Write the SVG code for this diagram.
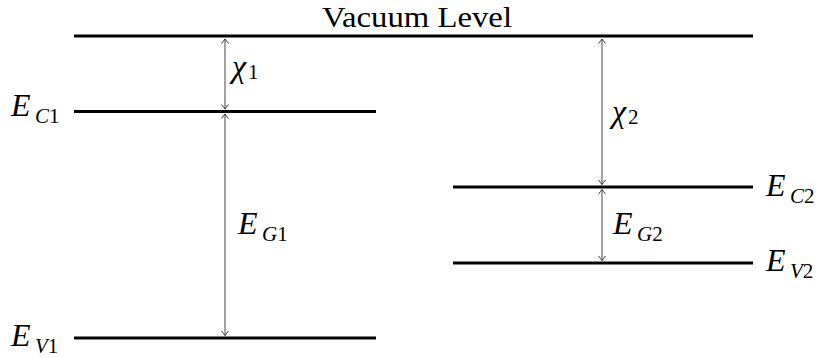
<svg xmlns="http://www.w3.org/2000/svg" width="818" height="358" viewBox="0 0 818 358">
<style>
.lvl{stroke:#000;stroke-width:3;fill:none}
.arr{stroke:#666;stroke-width:1.2;fill:none;marker-start:url(#ah);marker-end:url(#ah)}
.t{font-family:"Liberation Serif","DejaVu Serif",serif;fill:#000}
.big{font-size:32px;font-style:italic}
.sub{font-size:21px}
.it{font-style:italic}
</style>
<defs>
<marker id="ah" markerUnits="userSpaceOnUse" markerWidth="12" markerHeight="12" viewBox="-6 -6 12 12" refX="0" refY="0" orient="auto-start-reverse">
<path d="M-4.5,-3.5 Q-1.5,-1 0,0 Q-1.5,1 -4.5,3.5" stroke="#333" stroke-width="1" fill="none"/>
</marker>
</defs>
<rect width="818" height="358" fill="#fff"/>
<g id="vacuum">
<line class="lvl" x1="74" y1="36" x2="753" y2="36"/>
<text class="t" x="322" y="27" font-size="29" textLength="190" lengthAdjust="spacingAndGlyphs">Vacuum Level</text>
</g>
<g id="ec1">
<line class="lvl" x1="74" y1="111.5" x2="376" y2="111.5"/>
<text class="t big" x="11" y="116">E</text><text class="t sub it" x="35" y="123">C<tspan font-style="normal">1</tspan></text>
</g>
<g id="ev1">
<line class="lvl" x1="74" y1="338" x2="376" y2="338"/>
<text class="t big" x="11" y="346">E</text><text class="t sub it" x="35" y="353">V<tspan font-style="normal">1</tspan></text>
</g>
<g id="ec2">
<line class="lvl" x1="453" y1="187" x2="753" y2="187"/>
<text class="t big" x="766" y="196">E</text><text class="t sub it" x="790" y="203">C<tspan font-style="normal">2</tspan></text>
</g>
<g id="ev2">
<line class="lvl" x1="453" y1="263" x2="753" y2="263"/>
<text class="t big" x="766" y="271">E</text><text class="t sub it" x="790" y="278">V<tspan font-style="normal">2</tspan></text>
</g>
<g id="connectors">
<line class="arr" x1="225" y1="39" x2="225" y2="109"/>
<line class="arr" x1="225" y1="114" x2="225" y2="335.5"/>
<line class="arr" x1="602" y1="39" x2="602" y2="184.5"/>
<line class="arr" x1="602" y1="189.5" x2="602" y2="260.5"/>
</g>
<g id="labels">
<text class="t big" x="232" y="77">χ</text><text class="t sub" x="248" y="79">1</text>
<text class="t big" x="612" y="122">χ</text><text class="t sub" x="628" y="124">2</text>
<text class="t big" x="238" y="234">E</text><text class="t sub it" x="262" y="241">G<tspan font-style="normal">1</tspan></text>
<text class="t big" x="613" y="234">E</text><text class="t sub it" x="637" y="241">G<tspan font-style="normal">2</tspan></text>
</g>
</svg>
